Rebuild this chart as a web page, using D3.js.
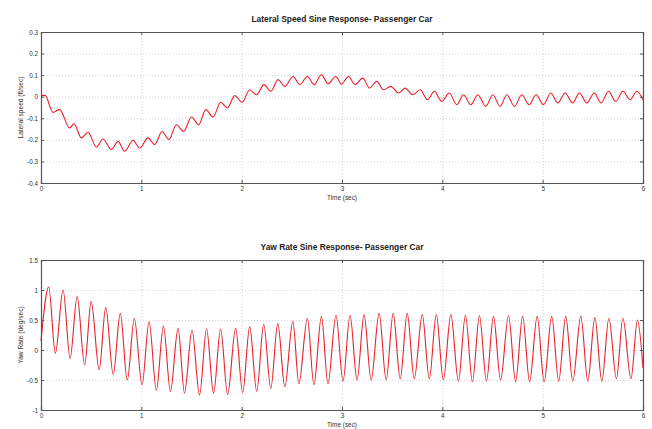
<!DOCTYPE html>
<html>
<head>
<meta charset="utf-8">
<script src="https://cdn.jsdelivr.net/npm/d3@7"></script>
<style>
  body { margin: 0; background: #fff; }
  text { font-family: "Liberation Sans", Arial, sans-serif; }
</style>
</head>
<body>
<script>
// time ticks shared by both plots
var timeTicks = [0, 1, 2, 3, 4, 5, 6];

// lateral speed (ft/sec) - ripple peaks/troughs
var latTicks = [-0.4, -0.3, -0.2, -0.1, 0, 0.1, 0.2, 0.3];
var latT = [0, 0.04, 0.120, 0.186, 0.286, 0.329, 0.402, 0.469, 0.552, 0.618, 0.701, 0.768, 0.834, 0.917,
    0.984, 1.067, 1.133, 1.206, 1.276, 1.349, 1.422, 1.499, 1.572, 1.642, 1.715, 1.791, 1.858, 1.931,
    2.004, 2.080, 2.147, 2.223, 2.290, 2.363, 2.429, 2.512, 2.579, 2.655, 2.722, 2.795, 2.861, 2.938,
    2.995, 3.064, 3.130, 3.207, 3.274, 3.347, 3.413, 3.486, 3.563, 3.629, 3.705, 3.779, 3.852, 3.921,
    3.995, 4.068, 4.144, 4.211, 4.284, 4.354, 4.433, 4.503, 4.576, 4.643, 4.719, 4.792, 4.865, 4.935,
    5.008, 5.081, 5.151, 5.224, 5.298, 5.367, 5.440, 5.514, 5.583, 5.656, 5.729, 5.800, 5.872, 5.938, 6.0];
var latV = [0.005, 0.006, -0.073, -0.060, -0.145, -0.125, -0.191, -0.165, -0.233, -0.196, -0.245, -0.207, -0.253, -0.202,
    -0.238, -0.191, -0.222, -0.161, -0.199, -0.130, -0.161, -0.094, -0.130, -0.060, -0.094, -0.026, -0.052, 0.005,
    -0.026, 0.032, 0.009, 0.056, 0.025, 0.079, 0.048, 0.094, 0.056, 0.094, 0.056, 0.102, 0.060, 0.094,
    0.058, 0.094, 0.056, 0.086, 0.040, 0.071, 0.032, 0.048, 0.017, 0.040, 0.009, 0.032, -0.014, 0.025,
    -0.022, 0.017, -0.037, 0.009, -0.037, 0.009, -0.045, 0.009, -0.045, 0.009, -0.045, 0.009, -0.037, 0.009,
    -0.037, 0.017, -0.029, 0.017, -0.029, 0.017, -0.029, 0.017, -0.029, 0.025, -0.022, 0.025, -0.014, 0.025, -0.014];

// yaw rate (deg/sec) - peaks/troughs
var yawTicks = [-1, -0.5, 0, 0.5, 1, 1.5];
var yawT = [0, 0.077, 0.143, 0.22, 0.29, 0.36, 0.435, 0.50, 0.58, 0.645, 0.72, 0.79, 0.86, 0.93, 1.007,
    1.077, 1.15, 1.22, 1.29, 1.366, 1.43, 1.505, 1.58, 1.65, 1.72, 1.79, 1.86, 1.94, 2.01, 2.08, 2.15,
    2.22, 2.29, 2.36, 2.43, 2.51, 2.57, 2.655, 2.72, 2.795, 2.86, 2.94, 3.01, 3.08, 3.15, 3.22, 3.29,
    3.37, 3.44, 3.51, 3.58, 3.65, 3.72, 3.80, 3.87, 3.94, 4.01, 4.085, 4.16, 4.23, 4.30, 4.37, 4.44,
    4.51, 4.58, 4.66, 4.73, 4.80, 4.87, 4.945, 5.015, 5.09, 5.16, 5.23, 5.30, 5.38, 5.45, 5.52, 5.59,
    5.66, 5.735, 5.80, 5.88, 5.945, 6.0];
var yawV = [0.15, 1.05, -0.055, 1.00, -0.14, 0.89, -0.25, 0.81, -0.33, 0.71, -0.41, 0.61, -0.50, 0.53, -0.58,
    0.47, -0.67, 0.40, -0.69, 0.36, -0.72, 0.33, -0.75, 0.35, -0.72, 0.35, -0.74, 0.36, -0.71, 0.39, -0.69,
    0.43, -0.64, 0.44, -0.61, 0.48, -0.56, 0.53, -0.58, 0.56, -0.56, 0.58, -0.52, 0.58, -0.50, 0.59, -0.50,
    0.61, -0.50, 0.61, -0.48, 0.61, -0.48, 0.59, -0.48, 0.59, -0.50, 0.59, -0.52, 0.58, -0.53, 0.57, -0.52,
    0.56, -0.50, 0.57, -0.53, 0.56, -0.53, 0.56, -0.53, 0.56, -0.52, 0.56, -0.52, 0.56, -0.52, 0.54, -0.52,
    0.53, -0.48, 0.53, -0.48, 0.50, -0.30];

var width = 652, height = 429;
var svg = d3.select("body").append("svg")
    .attr("width", width)
    .attr("height", height);

function panel(opts) {
    var x = d3.scaleLinear().domain([0, 6]).range([41, 643]);
    var y = d3.scaleLinear().domain(opts.yDomain).range([opts.bottom, opts.top]);
    var fmt = function (d) { return String(+d.toFixed(2)); };
    var g = svg.append("g");

    // dotted grid
    g.append("g").attr("class", "grid")
        .attr("transform", "translate(0," + opts.bottom + ")")
        .call(d3.axisBottom(x).tickValues(timeTicks).tickSize(-(opts.bottom - opts.top)).tickFormat(""));
    g.append("g").attr("class", "grid")
        .attr("transform", "translate(41,0)")
        .call(d3.axisLeft(y).tickValues(opts.yTicks).tickSize(-602).tickFormat(""));
    g.selectAll(".grid path").remove();
    g.selectAll(".grid line").attr("stroke", "#d4d4d4").attr("stroke-dasharray", "1,2");

    // the curve
    var line = d3.line()
        .x(function (d, i) { return x(opts.t[i]); })
        .y(function (d) { return y(d); })
        .curve(d3.curveMonotoneX);
    g.append("path")
        .datum(opts.v)
        .attr("d", line)
        .attr("fill", "none")
        .attr("stroke", "#e8202c")
        .attr("stroke-width", 1.1);

    // axes with inward ticks on all sides (matlab box)
    var ax = [
        g.append("g").attr("transform", "translate(0," + opts.bottom + ")")
            .call(d3.axisBottom(x).tickValues(timeTicks).tickSize(-3).tickPadding(4).tickFormat(fmt)),
        g.append("g").attr("transform", "translate(0," + opts.top + ")")
            .call(d3.axisTop(x).tickValues(timeTicks).tickSize(-3).tickFormat("")),
        g.append("g").attr("transform", "translate(41,0)")
            .call(d3.axisLeft(y).tickValues(opts.yTicks).tickSize(-3).tickPadding(3).tickFormat(fmt)),
        g.append("g").attr("transform", "translate(643,0)")
            .call(d3.axisRight(y).tickValues(opts.yTicks).tickSize(-3).tickFormat(""))
    ];
    ax.forEach(function (a) {
        a.select(".domain").attr("stroke", "#555").attr("stroke-width", 1.2);
        a.selectAll(".tick line").attr("stroke", "#555");
        a.selectAll("text").attr("font-size", 6.3).attr("fill", "#333")
            .attr("font-family", "Liberation Sans, Arial, sans-serif");
    });

    g.append("text")
        .attr("x", 342).attr("y", opts.top - 10)
        .attr("text-anchor", "middle")
        .attr("font-size", 8.4).attr("font-weight", "bold").attr("fill", "#222")
        .text(opts.title);
    g.append("text")
        .attr("x", 342).attr("y", opts.bottom + 17)
        .attr("text-anchor", "middle")
        .attr("font-size", 6.4).attr("fill", "#333")
        .text("Time (sec)");
    g.append("text")
        .attr("transform", "translate(23," + ((opts.top + opts.bottom) / 2) + ") rotate(-90)")
        .attr("text-anchor", "middle")
        .attr("font-size", 6.6).attr("fill", "#333")
        .text(opts.ylabel);
}

panel({
    top: 32, bottom: 183, yDomain: [-0.4, 0.3], yTicks: latTicks,
    t: latT, v: latV,
    title: "Lateral Speed Sine Response- Passenger Car",
    ylabel: "Lateral speed (ft/sec)"
});
panel({
    top: 260, bottom: 410, yDomain: [-1, 1.5], yTicks: yawTicks,
    t: yawT, v: yawV,
    title: "Yaw Rate Sine Response- Passenger Car",
    ylabel: "Yaw Rate (deg/sec)"
});
</script>
</body>
</html>
